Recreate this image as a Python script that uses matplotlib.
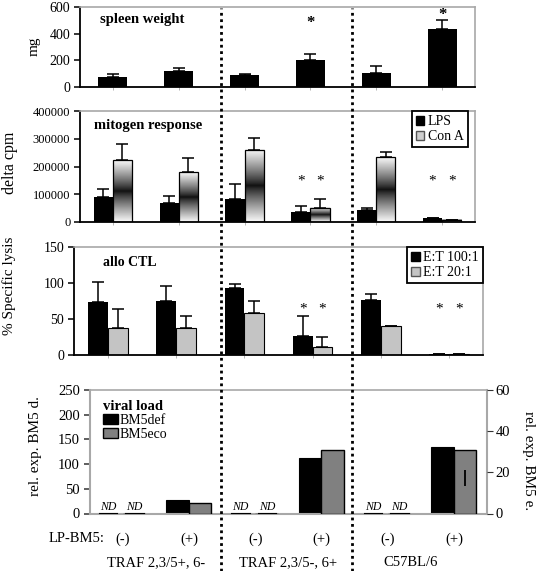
import numpy as np
import matplotlib
matplotlib.use("Agg")
import matplotlib.pyplot as plt
from matplotlib.patches import Patch
from matplotlib.lines import Line2D

plt.rcParams['font.family'] = ['Liberation Serif', 'STIXGeneral', 'DejaVu Serif']

# ---------------- data ----------------
categories = ["(-)", "(+)", "(-)", "(+)", "(-)", "(+)"]
group_labels = ["TRAF 2,3/5+, 6-", "TRAF 2,3/5-, 6+", "C57BL/6"]

spleen_mean = [77, 123, 90, 200, 103, 436]
spleen_err = [20, 18, 7, 46, 56, 64]
spleen_star = [None, None, None, 482, None, 538]

lps_mean = [89000, 67000, 83000, 35000, 42000, 13000]
lps_err = [31000, 27000, 54000, 22000, 9000, 0]
cona_mean = [223000, 180000, 260000, 51000, 234000, 9000]
cona_err = [57000, 49000, 43000, 32000, 20000, 0]
mito_star = [None, None, None, 147000, None, 147000]

ctl100_mean = [73, 75, 93, 26, 77, 2]
ctl100_err = [28, 21, 5, 28, 8, 0]
ctl20_mean = [38, 38, 59, 11, 40, 2]
ctl20_err = [26, 16, 16, 14, 0, 0]
ctl_star = [None, None, None, 64, None, 64]

bm5def = [0, 27, 0, 113, 0, 135]          # left axis
bm5eco = [0, 5.2, 0, 30.8, 0, 30.8]       # right axis
bm5eco_err_lo = [None, None, None, None, None, 13.4]
bm5eco_err_hi = [None, None, None, None, None, 21.2]
nd_flags = [True, False, True, False, True, False]

W, H = 537, 571
fig = plt.figure(figsize=(W / 100, H / 100), dpi=100)


def rect(x0, y0, x1, y1):
    return [x0 / W, 1 - y1 / H, (x1 - x0) / W, (y1 - y0) / H]


GRAY = "#a8a8a8"
x = np.arange(len(categories)) + 0.5


def style(ax, all_gray=False):
    for s in ["top", "right"]:
        ax.spines[s].set_color(GRAY)
        ax.spines[s].set_linewidth(1.2)
    ax.spines["left"].set_color(GRAY if all_gray else "black")
    ax.spines["left"].set_linewidth(1.3)
    ax.spines["bottom"].set_color(GRAY if all_gray else "black")
    ax.spines["bottom"].set_linewidth(1.3)
    ax.set_xlim(0, 6)
    ax.set_xticks(x)
    ax.tick_params(axis="x", length=2, width=0.6, color=GRAY, labelbottom=False)
    ax.tick_params(axis="y", direction="out", length=4, width=1.1, color="black",
                   labelsize=10, pad=3)


err_kw = dict(ecolor="black", elinewidth=1.1, capthick=1.1)

# ---------------- panel 1: spleen weight ----------------
ax1 = fig.add_axes(rect(80, 7, 475, 87))
style(ax1)
ax1.bar(x, spleen_mean, width=0.44, color="black", zorder=2)
ax1.errorbar(x, spleen_mean, yerr=[np.zeros(6), spleen_err], fmt="none",
             capsize=4.5, **err_kw, zorder=3)
ax1.set_ylim(0, 600)
ax1.set_yticks([0, 200, 400, 600])
ax1.text(0.05, 0.84, "spleen weight", transform=ax1.transAxes, fontsize=10.5,
         fontweight="bold", va="center")
for xi, s in zip(x, spleen_star):
    if s is not None:
        ax1.text(xi, s, "*", ha="center", va="center", fontsize=12, fontweight="bold")
fig.text(34 / W, 1 - 46 / H, "mg", rotation=90, ha="center", va="center", fontsize=11)

# ---------------- panel 2: mitogen response ----------------
ax2 = fig.add_axes(rect(80, 111, 475, 222))
style(ax2)
bw = 0.29
ax2.bar(x - bw / 2, lps_mean, width=bw, color="black", zorder=2)
grad_t = np.linspace(0, 1, 200)
grad = 0.06 + 0.92 * np.abs(2 * grad_t - 1) ** 0.85
grad_img = np.repeat(grad[:, None], 2, axis=1)
cona_bars = ax2.bar(x + bw / 2, cona_mean, width=bw, facecolor="none",
                    edgecolor="black", linewidth=0.9, zorder=3)
for b in cona_bars:
    bx, by, bwid, bh = b.get_x(), b.get_y(), b.get_width(), b.get_height()
    if bh <= 0:
        continue
    ax2.imshow(grad_img, extent=(bx, bx + bwid, by, by + bh), origin="lower",
               cmap="gray", vmin=0, vmax=1, aspect="auto", zorder=2,
               interpolation="bilinear")
ax2.errorbar(x - bw / 2, lps_mean, yerr=[np.zeros(6), lps_err], fmt="none",
             capsize=4, **err_kw, zorder=4)
ax2.errorbar(x + bw / 2, cona_mean, yerr=[np.zeros(6), cona_err], fmt="none",
             capsize=4, **err_kw, zorder=4)
ax2.set_xlim(0, 6)
ax2.set_ylim(0, 400000)
ax2.set_yticks([0, 100000, 200000, 300000, 400000])
ax2.set_yticklabels(["0", "100000", "200000", "300000", "400000"])
ax2.tick_params(axis="y", labelsize=9)
ax2.text(0.035, 0.87, "mitogen response", transform=ax2.transAxes, fontsize=10.5,
         fontweight="bold", va="center")
for xi, s in zip(x, mito_star):
    if s is not None:
        for off in (-bw / 2, bw / 2):
            ax2.text(xi + off, s, "*", ha="center", va="center", fontsize=11)
leg2 = ax2.legend(handles=[Patch(facecolor="black", edgecolor="black", label="LPS"),
                           Patch(facecolor="#cfcfcf", edgecolor="#555555", label="Con A")],
                  loc="upper right", bbox_to_anchor=(1 - 7 / 395, 1.0), borderaxespad=0,
                  fontsize=10, handlelength=0.6, handleheight=0.6, handletextpad=0.25,
                  labelspacing=0.15, borderpad=0.3, fancybox=False, framealpha=1,
                  edgecolor="black")
leg2.get_frame().set_linewidth(1.3)
fig.text(10 / W, 1 - 163 / H, "delta cpm", rotation=90, ha="center", va="center",
         fontsize=11.5)

# ---------------- panel 3: allo CTL ----------------
ax3 = fig.add_axes(rect(74, 247, 483, 355))
style(ax3)
ax3.bar(x - bw / 2, ctl100_mean, width=bw, color="black", zorder=2)
ax3.bar(x + bw / 2, ctl20_mean, width=bw, color="#c4c4c4", edgecolor="black",
        linewidth=0.8, zorder=2)
ax3.errorbar(x - bw / 2, ctl100_mean, yerr=[np.zeros(6), ctl100_err], fmt="none",
             capsize=4, **err_kw, zorder=3)
ax3.errorbar(x + bw / 2, ctl20_mean, yerr=[np.zeros(6), ctl20_err], fmt="none",
             capsize=4, **err_kw, zorder=3)
ax3.set_ylim(0, 150)
ax3.set_yticks([0, 50, 100, 150])
ax3.text(0.07, 0.855, "allo CTL", transform=ax3.transAxes, fontsize=10,
         fontweight="bold", va="center")
for xi, s in zip(x, ctl_star):
    if s is not None:
        for off in (-bw / 2, bw / 2):
            ax3.text(xi + off, s, "*", ha="center", va="center", fontsize=11)
leg3 = ax3.legend(handles=[Patch(facecolor="black", edgecolor="black", label="E:T 100:1"),
                           Patch(facecolor="#c4c4c4", edgecolor="#555555", label="E:T 20:1")],
                  loc="upper right", bbox_to_anchor=(1.0, 1.0), borderaxespad=0,
                  fontsize=10, handlelength=0.6, handleheight=0.6, handletextpad=0.25,
                  labelspacing=0.15, borderpad=0.3, fancybox=False, framealpha=1,
                  edgecolor="black")
leg3.get_frame().set_linewidth(1.3)
fig.text(9 / W, 1 - 286 / H, "% Specific lysis", rotation=90, ha="center",
         va="center", fontsize=11)

# ---------------- panel 4: viral load ----------------
ax4 = fig.add_axes(rect(89.6, 390, 487, 513.5))
style(ax4, all_gray=True)
ax4.spines["left"].set_linewidth(1.5)
ax4.spines["bottom"].set_linewidth(1.5)
ax4.spines["right"].set_linewidth(1.5)
vb = 0.34
ax4.bar(x - vb / 2, bm5def, width=vb, color="black", edgecolor="black",
        linewidth=0.8, zorder=2)
ax4.set_ylim(0, 250)
ax4.set_yticks([0, 50, 100, 150, 200, 250])
ax4.tick_params(axis="y", labelsize=10.5, length=4, color="#333333")
ax4.tick_params(axis="x", length=0)
ax4r = ax4.twinx()
ax4r.set_ylim(0, 60)
ax4r.bar(x + vb / 2, bm5eco, width=vb, color="#808080", edgecolor="black",
         linewidth=1.0, zorder=2)
for xi, lo, hi in zip(x, bm5eco_err_lo, bm5eco_err_hi):
    if lo is not None:
        ax4r.vlines(xi + vb / 2, lo, hi, color="black", lw=1.3, zorder=3)
ax4r.set_yticks([0, 20, 40, 60])
ax4r.tick_params(axis="y", labelsize=10.5, length=4, color="#333333", pad=2)
for s in ["top", "left", "bottom", "right"]:
    ax4r.spines[s].set_visible(False)
nd_texts = []
for xi, nd in zip(x, nd_flags):
    if nd:
        for off in (-vb / 2 - 0.05, vb / 2 + 0.01):
            t = ax4.text(xi + off, 0, "ND", ha="center", va="bottom", fontsize=8.5,
                         fontstyle="italic")
            nd_texts.append(t)
leg4 = ax4.legend(handles=[Patch(facecolor="black", edgecolor="black", label="BM5def"),
                           Patch(facecolor="#808080", edgecolor="black", label="BM5eco")],
                  title="viral load", loc="upper left", bbox_to_anchor=(0.02, 0.96),
                  borderaxespad=0, frameon=False, fontsize=10, handlelength=1.1,
                  handleheight=0.75, handletextpad=0.1, labelspacing=0.05,
                  alignment="left")
leg4.get_title().set_fontweight("bold")
leg4.get_title().set_fontsize(10.5)
fig.text(35 / W, 1 - 446 / H, "rel. exp. BM5 d.", rotation=90, ha="center",
         va="center", fontsize=11)
fig.text(529 / W, 1 - 461 / H, "rel. exp. BM5 e.", rotation=-90, ha="center",
         va="center", fontsize=11)

# x labels
xt = ax4.get_xaxis_transform()
for xi, lab in zip(x, categories):
    ax4.text(xi, -0.205, lab, transform=xt, ha="center", va="center", fontsize=10.5)
ax4.text(0.22, -0.205, "LP-BM5:", transform=xt, ha="right", va="center", fontsize=10.5)
group_pos = [1.0, 3.0, 4.85]
for gx, lab in zip(group_pos, group_labels):
    ax4.text(gx, -0.395, lab, transform=xt, ha="center", va="center", fontsize=10.5)

# dotted separators spanning the figure
for sx in (221, 352):
    fig.add_artist(Line2D([sx / W, sx / W], [0, 1 - 8 / H], transform=fig.transFigure,
                          color="black", lw=2.0, linestyle=(0, (1, 1.3)), zorder=10))

# underline the ND labels
fig.canvas.draw()
renderer = fig.canvas.get_renderer()
inv = fig.transFigure.inverted()
for t in nd_texts:
    bb = t.get_window_extent(renderer)
    (fx0, fy0), (fx1, _) = inv.transform([(bb.x0 - 1, bb.y0 + 1), (bb.x1 + 1, bb.y0 + 1)])
    fig.add_artist(Line2D([fx0, fx1], [fy0, fy0], transform=fig.transFigure,
                          color="black", lw=0.8))

fig.savefig("out.png", dpi=100)
